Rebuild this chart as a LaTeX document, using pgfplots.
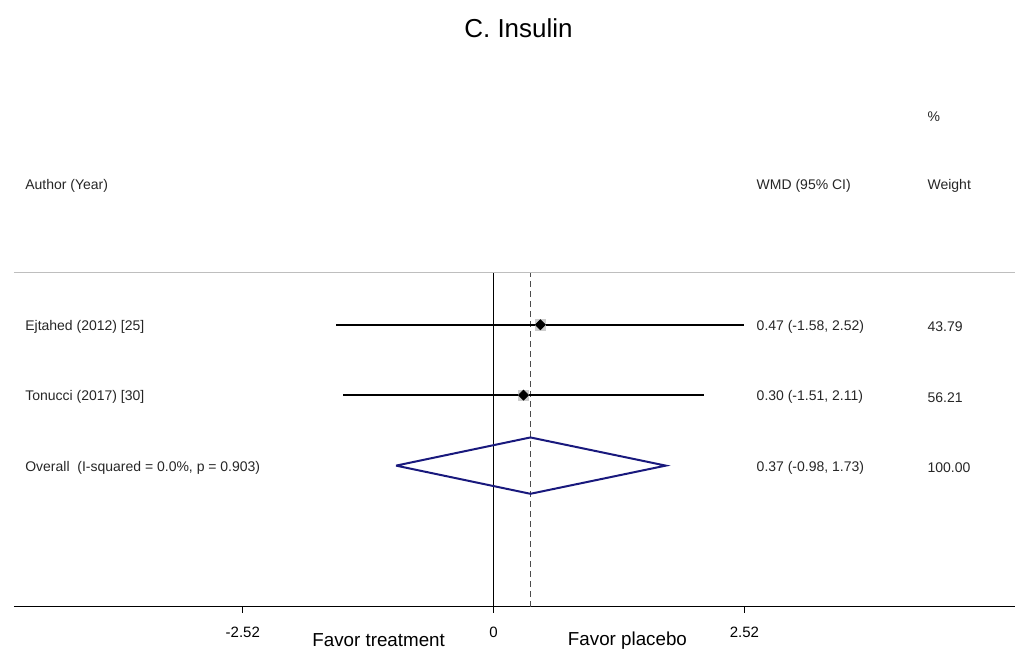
\documentclass[border=0pt]{standalone}
\usepackage{fontspec}
\setmainfont{Liberation Sans}
\usepackage{pgfplots}
\pgfplotsset{compat=1.18}
\definecolor{navyd}{RGB}{25,25,125}
\definecolor{sepgray}{RGB}{190,190,190}
\definecolor{boxgray}{RGB}{205,205,205}

\begin{document}
\begin{tikzpicture}
\begin{axis}[
  name=ax,
  scale only axis,
  width=501pt, height=261pt,
  xmin=-4.819, xmax=5.241,
  ymin=0, ymax=7.404,
  axis x line*=bottom,
  axis y line=none,
  x axis line style={-, line width=0.8pt},
  xtick={-2.52,0,2.52},
  xticklabels={-2.52,0,2.52},
  tick align=outside,
  major tick length=3pt,
  tick style={black, line width=0.6pt},
  xticklabel style={font=\fontsize{7.5}{8}\selectfont, yshift=-3.5pt},
  ytick=\empty,
  clip=false,
]
% header separator
\addplot[sepgray, line width=0.6pt] coordinates {(-4.819,4.74) (5.241,4.74)};
% null line and overall line
\addplot[black, line width=0.7pt] coordinates {(0,0) (0,4.74)};
\addplot[black!70, line width=0.7pt, dash pattern=on 3pt off 2pt] coordinates {(0.37,0) (0.37,4.74)};
% confidence intervals
\addplot[black, line width=1pt] coordinates {(-1.58,4) (2.52,4)};
\addplot[black, line width=1pt] coordinates {(-1.51,3) (2.11,3)};
% weight boxes and point estimates
\addplot[only marks, mark=square*, mark size=2.6pt, boxgray, mark options={draw=boxgray}] coordinates {(0.47,4) (0.30,3)};
\addplot[only marks, mark=square*, mark size=1.75pt, black, mark options={rotate=45}] coordinates {(0.47,4) (0.30,3)};
% pooled diamond
\addplot[navyd, line width=1pt] coordinates {(-0.98,2) (0.37,2.4) (1.73,2) (0.37,1.6) (-0.98,2)};

% text columns
\begin{scope}[font=\fontsize{7}{8}\selectfont, text=black!85, inner xsep=0pt]
\node[anchor=west] at (axis cs:-4.709,5.97) {Author (Year)};
\node[anchor=west] at (axis cs:2.64,5.97) {WMD (95\% CI)};
\node[anchor=west] at (axis cs:4.357,5.97) {Weight};
\node[anchor=west] at (axis cs:4.357,6.96) {\%};
\node[anchor=west] at (axis cs:-4.709,3.97) {Ejtahed (2012) [25]};
\node[anchor=west] at (axis cs:-4.709,2.97) {Tonucci (2017) [30]};
\node[anchor=west] at (axis cs:-4.709,1.97) {Overall\ \ (I-squared = 0.0\%, p = 0.903)};
\node[anchor=west] at (axis cs:2.64,3.97) {0.47 (-1.58, 2.52)};
\node[anchor=west] at (axis cs:2.64,2.97) {0.30 (-1.51, 2.11)};
\node[anchor=west] at (axis cs:2.64,1.97) {0.37 (-0.98, 1.73)};
\node[anchor=west] at (axis cs:4.357,3.97) {43.79};
\node[anchor=west] at (axis cs:4.357,2.97) {56.21};
\node[anchor=west] at (axis cs:4.357,1.97) {100.00};
\end{scope}
\node[font=\fontsize{9.4}{10}\selectfont] at (axis cs:-1.155,-0.48) {Favor treatment};
\node[font=\fontsize{9.4}{10}\selectfont] at (axis cs:1.345,-0.48) {Favor placebo};
\node[font=\fontsize{13}{14}\selectfont] at (axis cs:0.25,8.21) {C. Insulin};
\end{axis}
\path ([shift={(-7pt,-23pt)}]ax.south west) rectangle ([shift={(0pt,42.5pt)}]ax.north east);
\end{tikzpicture}
\end{document}
